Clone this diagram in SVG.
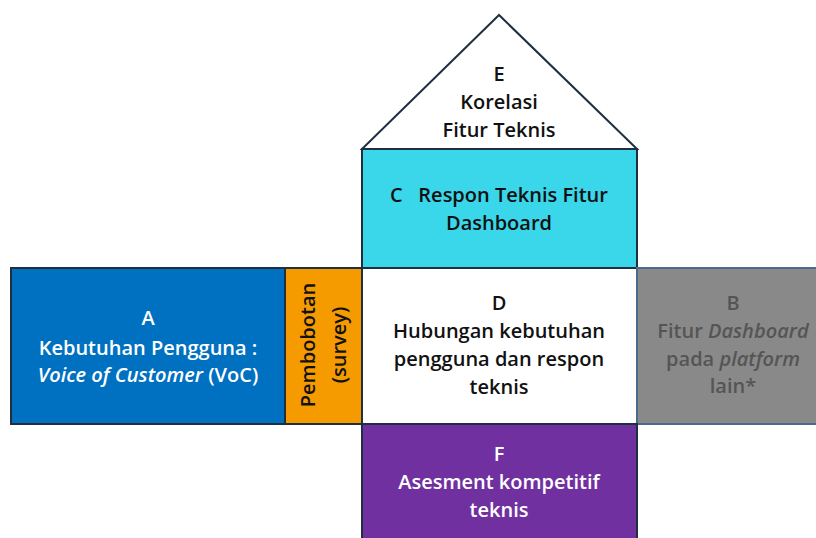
<svg xmlns="http://www.w3.org/2000/svg" width="816" height="538" viewBox="0 0 816 538">
<style>
.t{font-family:"Open Sans","Liberation Sans",sans-serif;font-weight:600;font-size:20px;text-anchor:middle}
.bd{stroke:#1f2f40;stroke-width:2}
</style>
<rect width="816" height="538" fill="#ffffff"/>
<g id="E">
<polygon points="499,15 362,149 637,149" fill="#ffffff" class="bd"/>
<text class="t" x="499" y="81" fill="#111">E</text>
<text class="t" x="499" y="109" fill="#111">Korelasi</text>
<text class="t" x="499" y="137" fill="#111">Fitur Teknis</text>
</g>
<g id="C">
<rect x="362" y="149" width="275" height="119" fill="#3ad6ea" class="bd"/>
<text class="t" x="499" y="202" fill="#111" xml:space="preserve">C   Respon Teknis Fitur</text>
<text class="t" x="499" y="230" fill="#111">Dashboard</text>
</g>
<g id="A">
<rect x="11" y="268" width="274" height="156" fill="#0070c0" class="bd"/>
<text class="t" x="148" y="325" fill="#fff">A</text>
<text class="t" x="148" y="355" fill="#fff">Kebutuhan Pengguna :</text>
<text class="t" x="148" y="382" fill="#fff"><tspan font-style="italic">Voice of Customer</tspan> (VoC)</text>
</g>
<g id="W">
<rect x="285" y="268" width="77" height="156" fill="#f59b00" class="bd"/>
<text class="t" transform="translate(315,345) rotate(-90)" fill="#111">Pembobotan</text>
<text class="t" transform="translate(346,345) rotate(-90)" fill="#111">(survey)</text>
</g>
<g id="D">
<rect x="362" y="268" width="275" height="156" fill="#ffffff" class="bd"/>
<text class="t" x="499" y="310" fill="#111">D</text>
<text class="t" x="499" y="338" fill="#111">Hubungan kebutuhan</text>
<text class="t" x="499" y="366" fill="#111">pengguna dan respon</text>
<text class="t" x="499" y="394" fill="#111">teknis</text>
</g>
<g id="B">
<rect x="637" y="268" width="182" height="156" fill="#898989" stroke="#4a6b8c" stroke-width="2"/>
<text class="t" x="733" y="310" fill="#555">B</text>
<text class="t" x="733" y="338" fill="#555">Fitur <tspan font-style="italic">Dashboard</tspan></text>
<text class="t" x="733" y="366" fill="#555">pada <tspan font-style="italic">platform</tspan></text>
<text class="t" x="733" y="393" fill="#555">lain*</text>
</g>
<g id="F">
<rect x="362" y="424" width="275" height="120" fill="#7030a0" class="bd"/>
<text class="t" x="499" y="461" fill="#fff">F</text>
<text class="t" x="499" y="489" fill="#fff">Asesment kompetitif</text>
<text class="t" x="499" y="517" fill="#fff">teknis</text>
</g>
<g id="connectors"></g>
</svg>
